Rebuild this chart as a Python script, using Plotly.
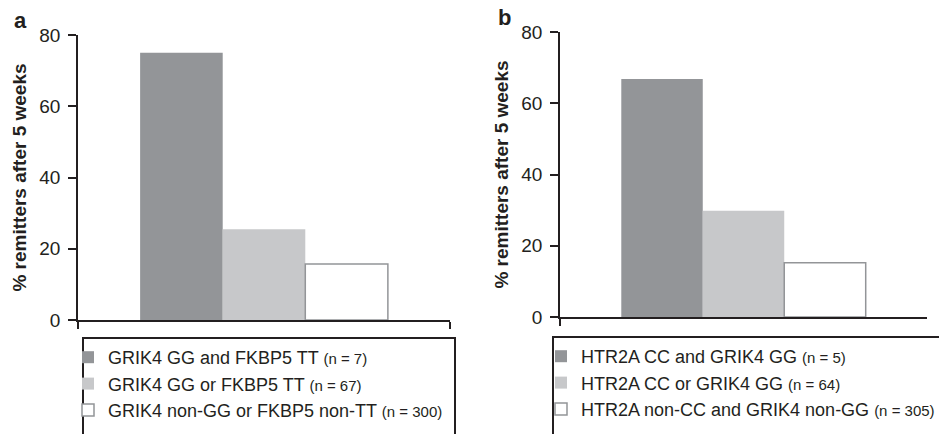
import plotly.graph_objects as go

# ---- data ----
panel_a_labels = ["GRIK4 GG and FKBP5 TT", "GRIK4 GG or FKBP5 TT", "GRIK4 non-GG or FKBP5 non-TT"]
panel_a_n = [7, 67, 300]
panel_a_values = [75.0, 25.5, 15.7]

panel_b_labels = ["HTR2A CC and GRIK4 GG", "HTR2A CC or GRIK4 GG", "HTR2A non-CC and GRIK4 non-GG"]
panel_b_n = [5, 64, 305]
panel_b_values = [66.8, 29.8, 15.2]

y_ticks = [0, 20, 40, 60, 80]
y_title = "% remitters after 5 weeks"
panel_letters = ["a", "b"]

# ---- styles ----
fills = ["#939598", "#c7c8ca", "#ffffff"]
outlines = ["#939598", "#c7c8ca", "#939598"]
outline_w = [0, 0, 1.5]
ink = "#231f20"
FONT = "Liberation Sans, Arial, Helvetica, sans-serif"

fig = go.Figure()

for labels, ns, vals, xa, ya, lg in [
    (panel_a_labels, panel_a_n, panel_a_values, "x", "y", "legend"),
    (panel_b_labels, panel_b_n, panel_b_values, "x2", "y2", "legend2"),
]:
    for i, (lab, n, v) in enumerate(zip(labels, ns, vals)):
        fig.add_trace(go.Bar(
            x=["grp"], y=[v], xaxis=xa, yaxis=ya, legend=lg,
            name=f"{lab} <span style='font-size:15px'>(n = {n})</span>",
            marker=dict(color=fills[i], line=dict(color=outlines[i], width=outline_w[i])),
            hoverinfo="skip",
        ))

W, H = 939, 434
def px_x(p): return p / W
def px_y(p): return (H - p) / H

xcommon = dict(type="category", showline=True, linecolor=ink, linewidth=1.5,
               ticks="outside", tickson="boundaries", ticklen=7, tickwidth=1.5,
               tickcolor=ink, showticklabels=False, showgrid=False, zeroline=False,
               fixedrange=True)
ycommon = dict(range=[0, 80], tickvals=y_ticks, showline=True, linecolor=ink, linewidth=1.5,
               ticks="outside", ticklen=8, tickwidth=1.5, tickcolor=ink,
               ticklabelstandoff=4,
               tickfont=dict(size=19, color=ink, family=FONT),
               showgrid=False, zeroline=False, fixedrange=True,
               title=dict(text=f"<b>{y_title}</b>", font=dict(size=19, color=ink, family=FONT), standoff=8))

fig.update_layout(
    width=W, height=H, margin=dict(l=0, r=0, t=0, b=0, autoexpand=False),
    paper_bgcolor="white", plot_bgcolor="white",
    font=dict(family=FONT, color=ink),
    barmode="group", bargap=0.334, bargroupgap=0,
    xaxis=dict(domain=[px_x(78), px_x(450)], anchor="y", **xcommon),
    yaxis=dict(domain=[px_y(320), px_y(35)], anchor="x", **ycommon),
    xaxis2=dict(domain=[px_x(560), px_x(927)], anchor="y2", **xcommon),
    yaxis2=dict(domain=[px_y(317), px_y(32)], anchor="x2", **ycommon),
    legend=dict(x=px_x(68), y=px_y(339), xanchor="left", yanchor="top",
                font=dict(size=18, color=ink, family=FONT), bgcolor="rgba(0,0,0,0)",
                borderwidth=0, traceorder="normal"),
    legend2=dict(x=px_x(541), y=px_y(338), xanchor="left", yanchor="top",
                 font=dict(size=18, color=ink, family=FONT), bgcolor="rgba(0,0,0,0)",
                 borderwidth=0, traceorder="normal"),
    showlegend=True,
)

# legend frames (open at the bottom, running past the image edge)
fig.add_shape(type="rect", xref="paper", yref="paper",
              x0=px_x(83), x1=px_x(455), y0=px_y(460), y1=px_y(338),
              line=dict(color=ink, width=2), fillcolor="rgba(0,0,0,0)", layer="below")
fig.add_shape(type="rect", xref="paper", yref="paper",
              x0=px_x(553), x1=px_x(960), y0=px_y(460), y1=px_y(337),
              line=dict(color=ink, width=2), fillcolor="rgba(0,0,0,0)", layer="below")

# panel letters
for letter, lx, ly in [(panel_letters[0], 20.5, 20), (panel_letters[1], 504.5, 17)]:
    fig.add_annotation(text=f"<b>{letter}</b>", xref="paper", yref="paper",
                       x=px_x(lx), y=px_y(ly), xanchor="center", yanchor="middle",
                       showarrow=False,
                       font=dict(size=22, color=ink, family=FONT))

fig.write_html("out.html", config={"displayModeBar": False},
               post_script="document.body.style.margin='0px';document.body.style.overflow='hidden';")
